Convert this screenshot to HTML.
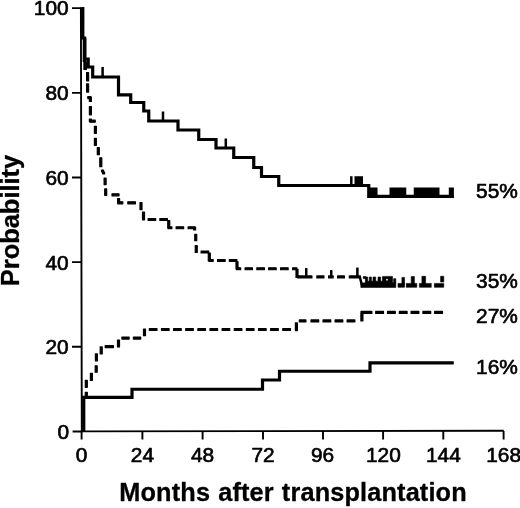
<!DOCTYPE html>
<html><head><meta charset="utf-8">
<style>
html,body{margin:0;padding:0;background:#fff;}
svg{display:block;}
text{font-family:"Liberation Sans",Arial,Helvetica,sans-serif;fill:#000;stroke:#000;stroke-width:0.62;stroke-linejoin:round;}
.ax{stroke:#000;stroke-width:1.9;fill:none;}
.s{stroke:#000;stroke-width:3.2;fill:none;stroke-linejoin:miter;}
.d{stroke:#000;stroke-width:3;fill:none;stroke-dasharray:7.5 3.7;}
.t{stroke:#000;stroke-width:2.5;fill:none;}
.lab{font-size:19.7px;}
.ttl{font-size:25.3px;font-weight:bold;stroke-width:0.3;}
</style></head>
<body>
<svg width="520" height="508" viewBox="0 0 520 508">
<rect width="520" height="508" fill="#fff"/>
<!-- axes -->
<path class="ax" d="M80.9,7.4L81.8,431.4L503.8,430.8" stroke-linejoin="miter"/>
<path class="ax" d="M72,8.1H81.3M72,92.9H81.3M72,177.5H81.3M72,262.1H81.3M72,346.7H81.3M72.6,431.5H81.3"/>
<path class="ax" d="M81.6,431V439.5M142.4,431V439.5M202.6,431V439.5M263,431V439.5M323,431V439.5M383.1,431V439.5M443.3,431V439.5M503.6,431V439.5"/>
<!-- y labels -->
<g class="lab" text-anchor="end">
<text transform="translate(68.6,15.2) scale(1.06,1)">100</text>
<text transform="translate(68.6,99.6) scale(1.06,1)">80</text>
<text transform="translate(68.6,184.6) scale(1.06,1)">60</text>
<text transform="translate(68.6,269.8) scale(1.06,1)">40</text>
<text transform="translate(68.6,354.2) scale(1.06,1)">20</text>
<text transform="translate(69,438.8) scale(1.06,1)">0</text>
</g>
<!-- x labels -->
<g class="lab" text-anchor="middle">
<text transform="translate(81.6,462.4) scale(1.06,1)">0</text>
<text transform="translate(142.4,462.4) scale(1.06,1)">24</text>
<text transform="translate(202.6,462.4) scale(1.06,1)">48</text>
<text transform="translate(263,462.4) scale(1.06,1)">72</text>
<text transform="translate(322.6,462.4) scale(1.06,1)">96</text>
<text transform="translate(383.4,462.4) scale(1.06,1)">120</text>
<text transform="translate(443.4,462.4) scale(1.06,1)">144</text>
<text transform="translate(503.6,462.4) scale(1.06,1)">168</text>
</g>
<g class="lab">
<text transform="translate(476.1,198.2) scale(1.06,1)">55%</text>
<text transform="translate(476.1,287.6) scale(1.06,1)">35%</text>
<text transform="translate(476.1,323.4) scale(1.06,1)">27%</text>
<text transform="translate(476.1,374.4) scale(1.06,1)">16%</text>
</g>
<text class="ttl" x="119.3" y="500.6" style="letter-spacing:0.15px;word-spacing:0.9px">Months after transplantation</text>
<text class="ttl" transform="translate(19.4,286.2) rotate(-90)" textLength="131.4" lengthAdjust="spacingAndGlyphs">Probability</text>
<!-- upper solid -->
<path class="s" d="M82.8,7V38H84.6V59H88.2V67H92.7V77H118.5V94.8H130.7V102.5H143.75V111H148.75V121H178V130H198.75V139.5H216V148H233.75V157.5H253.75V167.5H261.5V176.5H278.75V185.5H368.75V196.3H453.7"/>
<path class="t" d="M102.6,67V77M163,111.5V121M225.8,138.5V148M351.3,176.3V185.5"/>
<path d="M448.8,187.5H453.9V197.9H448.8Z" fill="#000"/>
<path d="M354.5,176.3H363V185.5H354.5ZM368.75,187.5H377.5V197H368.75ZM389.5,187.5H406.25V197H389.5ZM413.75,187.5H439.5V197H413.75Z" fill="#000"/>
<!-- upper dashed -->
<path d="M82.7,38H86.4V70H83.6V62H82.7Z" fill="#000"/>
<!--UD-->
<path d="M84.10,62.00H86.30V69.40H84.10ZM86.60,72.60H88.60V80.80H86.60ZM86.60,83.90H88.60V92.10H86.60ZM87.80,96.60H91.00V98.60H87.80ZM89.40,97.60H91.40V101.40H89.40ZM89.40,106.60H91.40V114.80H89.40ZM89.40,119.10H91.40V121.70H89.40ZM90.00,120.20H95.20V122.20H90.00ZM94.40,126.30H96.40V133.30H94.40ZM94.40,138.30H96.40V145.30H94.40ZM97.30,147.60H99.30V154.70H97.30ZM99.80,157.80H101.80V166.70H99.80ZM101.60,170.00H103.60V171.90H101.60ZM102.60,172.10H104.60V173.80H102.60ZM104.10,178.20H106.10V184.60H104.10ZM104.70,188.90H106.70V195.30H104.70ZM112.00,193.80H119.00V195.80H112.00ZM117.60,198.60H119.60V202.90H117.60ZM117.80,201.80H122.80V203.80H117.80ZM127.80,201.80H135.40V203.80H127.80ZM140.00,202.60H142.00V209.70H140.00ZM142.50,212.20H144.50V219.80H142.50ZM148.10,218.50H155.65V220.50H148.10ZM159.85,218.50H167.40V220.50H159.85ZM167.75,220.60H169.75V227.90H167.75ZM168.10,226.75H171.90V228.75H168.10ZM176.10,226.75H183.65V228.75H176.10ZM188.10,226.75H194.90V228.75H188.10ZM193.60,227.10H195.60V229.90H193.60ZM194.75,234.35H196.75V240.65H194.75ZM195.25,245.60H197.25V252.40H195.25ZM201.10,251.00H208.65V253.00H201.10ZM208.30,253.10H210.30V260.90H208.30ZM209.10,259.50H213.15V261.50H209.10ZM217.60,259.50H225.15V261.50H217.60ZM229.35,259.50H236.90V261.50H229.35ZM236.00,261.85H238.00V268.90H236.00ZM236.60,267.75H240.65V269.75H236.60ZM245.10,267.75H252.40V269.75H245.10ZM256.85,267.75H264.40V269.75H256.85ZM268.60,267.75H276.15V269.75H268.60ZM280.60,267.75H288.15V269.75H280.60ZM292.60,267.75H296.90V269.75H292.60ZM296.00,269.35H298.00V277.40H296.00ZM297.60,275.90H311.90V277.90H297.60ZM316.85,275.90H323.90V277.90H316.85ZM328.60,275.90H333.15V277.90H328.60ZM337.60,275.90H344.40V277.90H337.60ZM349.35,275.90H360.40V277.90H349.35ZM305.60,268.60H306.90V276.40H305.60ZM330.60,270.60H331.90V276.40H330.60ZM356.75,268.10H358.05V276.40H356.75Z" fill="#000" stroke="#000" stroke-width="1.2" stroke-linejoin="round"/>
<!--/UD-->
<path d="M360.8,282.9H395.8V287.4H360.8ZM365.4,277H367.7V283H365.4ZM369.3,277H371.4V283H369.3ZM373,277H375.7V283H373ZM378,277H380.7V283H378ZM363.2,276.6H366V278.6H363.2ZM365.4,281.2H382.5V283H365.4ZM382.5,276.4H392.5V283H382.5ZM393.6,278.7H395.8V283H393.6ZM398,283.4H404.5V287.3H398ZM401.9,277.4H404.5V284H401.9ZM406.25,283.4H416.8V287.3H406.25ZM411.2,276.6H414.4V284H411.2ZM419.4,283.4H431.25V287.3H419.4ZM421.9,276.3H425.6V284H421.9ZM434.4,283.4H443.75V287.3H434.4ZM440.6,276.3H443.75V281.9H440.6Z" fill="#000" stroke="#000" stroke-width="0.6" stroke-linejoin="round"/>
<rect x="386.2" y="278.9" width="1.6" height="1.6" fill="#fff"/>
<path d="M359.6,276.3L361.9,285" class="t" stroke-width="3"/>
<!-- lower dashed -->
<!--LD-->
<path d="M85.30,392.30H87.30V396.10H85.30ZM85.30,380.30H87.30V387.30H85.30ZM90.40,373.40H92.40V380.40H90.40ZM95.20,365.80H97.20V372.20H95.20ZM95.40,353.90H97.40V360.80H95.40ZM100.20,346.90H102.20V353.90H100.20ZM105.20,345.60H113.40V347.60H105.20ZM117.50,340.00H119.50V347.00H117.50ZM121.90,337.10H129.10V339.10H121.90ZM133.40,337.10H140.70V339.10H133.40ZM143.50,329.20H145.50V335.70H143.50ZM149.35,328.50H156.95V330.50H149.35ZM161.48,328.50H169.08V330.50H161.48ZM173.61,328.50H181.21V330.50H173.61ZM185.74,328.50H193.34V330.50H185.74ZM197.87,328.50H205.47V330.50H197.87ZM210.00,328.50H217.60V330.50H210.00ZM222.13,328.50H229.73V330.50H222.13ZM234.26,328.50H241.86V330.50H234.26ZM246.39,328.50H253.99V330.50H246.39ZM258.52,328.50H266.12V330.50H258.52ZM270.65,328.50H278.25V330.50H270.65ZM282.78,328.50H290.38V330.50H282.78ZM295.40,322.90H297.40V330.60H295.40ZM299.35,319.90H305.90V321.90H299.35ZM311.00,319.90H318.70V321.90H311.00ZM323.05,319.90H330.75V321.90H323.05ZM335.10,319.90H342.80V321.90H335.10ZM347.15,319.90H354.85V321.90H347.15ZM360.90,313.00H362.90V320.90H360.90ZM361.00,311.40H371.90V313.40H361.00ZM375.70,311.40H383.50V313.40H375.70ZM387.50,311.40H395.30V313.40H387.50ZM399.30,311.40H407.10V313.40H399.30ZM411.10,311.40H418.90V313.40H411.10ZM422.90,311.40H430.70V313.40H422.90ZM434.70,311.40H442.50V313.40H434.70Z" fill="#000" stroke="#000" stroke-width="1.2" stroke-linejoin="round"/>
<!--/LD-->
<!-- lower solid -->
<path class="s" d="M83.75,431V397.4H132V389.25H262.5V380H279.5V371.25H370V362.8H453.75"/>
</svg>
</body></html>
